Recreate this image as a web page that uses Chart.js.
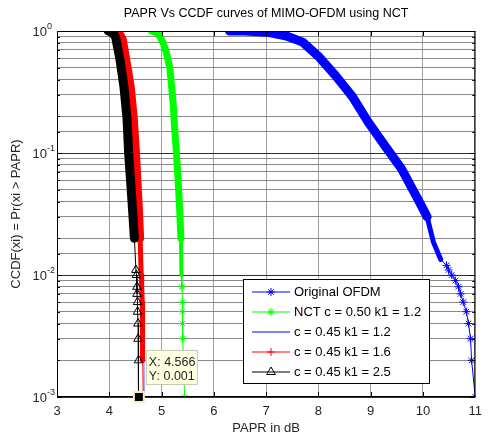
<!DOCTYPE html>
<html lang="en">
<head>
  <meta charset="UTF-8">
  <title>PAPR Vs CCDF curves of MIMO-OFDM using NCT</title>
  <script src="https://cdn.jsdelivr.net/npm/chart.js"></script>
  <style>
    body { margin: 0; padding: 0; background: #fff; }
    #wrap { width: 489px; height: 437px; position: relative; }
  </style>
</head>
<body>
  <div id="wrap"><canvas id="chart"></canvas></div>

  <script>
    // values (PAPR in dB, CCDF)
    const origX = [6.30, 6.60, 7.07, 7.39, 7.70, 8.00, 8.33, 8.65, 8.95, 9.27, 9.59, 9.90, 10.08, 10.20, 10.34, 10.45, 10.49, 10.55, 10.62, 10.68, 10.72, 10.77, 10.83, 10.87, 10.91, 10.93, 11.00];
    const origY = [1.0, 1.0, 0.97, 0.91, 0.81, 0.62, 0.43, 0.29, 0.18, 0.115, 0.074, 0.042, 0.030, 0.0186, 0.0134, 0.012, 0.011, 0.010, 0.009, 0.008, 0.007, 0.006, 0.005, 0.004, 0.003, 0.002, 0.001];

    const nct50X = [4.81, 4.90, 4.97, 5.03, 5.09, 5.16, 5.22, 5.25, 5.28, 5.32, 5.35, 5.37, 5.38, 5.39, 5.40, 5.40, 5.40, 5.41, 5.42, 5.44];
    const nct50Y = [1.0, 0.97, 0.9, 0.8, 0.67, 0.49, 0.26, 0.16, 0.107, 0.057, 0.032, 0.02, 0.01, 0.008, 0.006, 0.005, 0.004, 0.003, 0.002, 0.001];

    const k12X = [4.14, 4.22, 4.28, 4.34, 4.43, 4.49, 4.53, 4.56, 4.59, 4.61, 4.64, 4.65, 4.66, 4.67];
    const k12Y = [1.0, 0.95, 0.85, 0.6, 0.35, 0.19, 0.1, 0.057, 0.032, 0.02, 0.01, 0.006, 0.003, 0.001];

    const k16X = [4.12, 4.20, 4.26, 4.32, 4.41, 4.47, 4.51, 4.54, 4.57, 4.59, 4.61, 4.62, 4.63, 4.63, 4.64, 4.64, 4.65];
    const k16Y = [1.0, 0.95, 0.85, 0.6, 0.35, 0.19, 0.1, 0.057, 0.032, 0.02, 0.01, 0.008, 0.006, 0.004, 0.003, 0.002, 0.001];

    const k25X = [3.98, 4.05, 4.12, 4.20, 4.28, 4.34, 4.37, 4.41, 4.45, 4.48, 4.51, 4.52, 4.53, 4.53, 4.54, 4.54, 4.55, 4.55, 4.56, 4.566];
    const k25Y = [1.0, 0.98, 0.9, 0.6, 0.35, 0.19, 0.1, 0.057, 0.032, 0.02, 0.011, 0.01, 0.008, 0.007, 0.006, 0.005, 0.004, 0.003, 0.002, 0.001];

    const seriesNames = ["Original OFDM", "NCT c = 0.50 k1 = 1.2", "c = 0.45 k1 = 1.2", "c = 0.45 k1 = 1.6", "c = 0.45 k1 = 2.5"];
    const tipX = 4.566, tipY = 0.001;

    const pts = (xs, ys) => xs.map((x, i) => ({ x: x, y: ys[i] }));
    const FONT = "'Liberation Sans', Arial, sans-serif";

    // packed markers look like a thick band; thinner lower down, then a plain line
    function band(steps) {
      return ctx => {
        const lo = Math.min(ctx.p0.parsed.y, ctx.p1.parsed.y);
        for (const [thr, w] of steps) if (lo >= thr) return w;
        return 1;
      };
    }
    function sparse(r, thr) {
      return ctx => (ctx.raw && ctx.raw.y < thr) ? r : 0;
    }

    const styles = [
      { color: "#0000ff", marker: "star", r: 4, steps: [[0.03, 9], [0.013, 5]], order: 4 },
      { color: "#00ff00", marker: "star", r: 4, steps: [[0.015, 7], [0.009, 4]], order: 3 },
      { color: "#8080ff", marker: false, r: 0, steps: [], order: 2 },
      { color: "#ff0000", marker: "cross", r: 4, steps: [[0.02, 8], [0.002, 5]], order: 1 },
      { color: "#000000", marker: "triangle", r: 5, steps: [[0.015, 9]], order: 0 }
    ];
    const allData = [pts(origX, origY), pts(nct50X, nct50Y), pts(k12X, k12Y), pts(k16X, k16Y), pts(k25X, k25Y)];

    const datasets = allData.map((d, i) => {
      const s = styles[i];
      const lowest = s.steps.length ? s.steps[s.steps.length - 1][0] : 0;
      return {
        label: seriesNames[i],
        data: d,
        order: s.order,
        borderColor: s.color,
        backgroundColor: "rgba(0,0,0,0)",
        pointBorderColor: s.color,
        pointBackgroundColor: "rgba(0,0,0,0)",
        borderWidth: 1,
        borderJoinStyle: "round",
        borderCapStyle: "round",
        pointStyle: s.marker,
        pointRadius: s.marker ? sparse(s.r, lowest) : 0,
        pointBorderWidth: 1,
        segment: { borderWidth: band(s.steps) },
        tension: 0,
        showLine: true
      };
    });

    function drawSup(ctx, x, y, base, exp) {
      ctx.font = "13px " + FONT;
      ctx.textAlign = "right";
      ctx.textBaseline = "alphabetic";
      ctx.fillText(base, x, y + 5);
      ctx.font = "9px " + FONT;
      ctx.textAlign = "left";
      ctx.fillText(exp, x, y - 2);
    }

    const matlabLook = {
      id: "matlabLook",
      afterDraw(chart) {
        const c = chart.ctx, a = chart.chartArea;
        const xs = chart.scales.x, ys = chart.scales.y;
        c.save();

        // axes box + inward ticks
        c.strokeStyle = "#000";
        c.lineWidth = 1;
        c.strokeRect(a.left + 0.5, a.top + 0.5, a.right - a.left - 1, a.bottom - a.top - 1);
        c.beginPath();
        for (let v = 4; v <= 10; v++) {
          const px = Math.round(xs.getPixelForValue(v)) + 0.5;
          c.moveTo(px, a.bottom); c.lineTo(px, a.bottom - 5);
          c.moveTo(px, a.top); c.lineTo(px, a.top + 5);
        }
        ys.ticks.forEach(t => {
          const py = Math.round(ys.getPixelForValue(t.value)) + 0.5;
          const major = Math.abs(Math.log10(t.value) - Math.round(Math.log10(t.value))) < 1e-6;
          const len = major ? 5 : 3;
          c.moveTo(a.left, py); c.lineTo(a.left + len, py);
          c.moveTo(a.right, py); c.lineTo(a.right - len, py);
        });
        c.stroke();

        // y tick labels with superscript
        c.fillStyle = "#262626";
        [0, -1, -2, -3].forEach(e => {
          const py = ys.getPixelForValue(Math.pow(10, e));
          drawSup(c, 47, py, "10", String(e));
        });

        // title and axis labels
        c.fillStyle = "#000";
        c.font = "12.5px " + FONT;
        c.textAlign = "center";
        c.textBaseline = "middle";
        c.fillText("PAPR Vs CCDF curves of MIMO-OFDM using NCT", (a.left + a.right) / 2, 14);
        c.fillStyle = "#262626";
        c.font = "13px " + FONT;
        c.fillText("PAPR in dB", (a.left + a.right) / 2, 428);
        c.save();
        c.translate(16, (a.top + a.bottom) / 2);
        c.rotate(-Math.PI / 2);
        c.fillText("CCDF(xi) = Pr(xi > PAPR)", 0, 0);
        c.restore();

        // legend
        const lx = 243, ly = 279, lw = 186, lh = 104;
        c.fillStyle = "#fff";
        c.fillRect(lx, ly, lw, lh);
        c.strokeStyle = "#000";
        c.lineWidth = 1;
        c.strokeRect(lx + 0.5, ly + 0.5, lw, lh);
        seriesNames.forEach((name, i) => {
          const s = styles[i];
          const yy = 292 + i * 20;
          c.strokeStyle = s.color;
          c.lineWidth = i === 2 ? 2 : 1;
          c.beginPath();
          c.moveTo(252, yy); c.lineTo(290, yy);
          c.stroke();
          if (s.marker) {
            c.lineWidth = 1;
            c.fillStyle = "rgba(0,0,0,0)";
            Chart.helpers.drawPoint(c, { pointStyle: s.marker, radius: s.r, borderWidth: 1, rotation: 0 }, 271, yy);
          }
          c.fillStyle = "#000";
          c.font = "13px " + FONT;
          c.textAlign = "left";
          c.textBaseline = "middle";
          c.fillText(name, 294, yy);
        });

        // data tip
        const tx = xs.getPixelForValue(tipX), ty = ys.getPixelForValue(tipY);
        c.fillStyle = "#ffffe1";
        c.fillRect(tx + 7, ty - 47, 51, 34);
        c.strokeStyle = "#c8c8b4";
        c.strokeRect(tx + 7.5, ty - 46.5, 51, 34);
        c.fillStyle = "#262626";
        c.font = "12.5px " + FONT;
        c.textAlign = "left";
        c.fillText("X: " + tipX, tx + 10, ty - 34);
        c.fillText("Y: " + tipY.toFixed(3), tx + 10, ty - 20);
        c.fillStyle = "#f5f0c8";
        c.fillRect(tx - 6, ty - 6, 12, 12);
        c.fillStyle = "#000";
        c.fillRect(tx - 4, ty - 4, 8, 8);

        c.restore();
      }
    };

    new Chart(document.getElementById("chart"), {
      type: "scatter",
      data: { datasets: datasets },
      options: {
        responsive: true,
        maintainAspectRatio: false,
        animation: false,
        layout: { padding: { top: 31, right: 7, left: 0, bottom: 0 } },
        plugins: { legend: { display: false }, tooltip: { enabled: false }, title: { display: false } },
        scales: {
          x: {
            type: "linear", min: 3, max: 11,
            ticks: { stepSize: 1, color: "#262626", font: { size: 13, family: FONT }, padding: 7 },
            grid: { color: "#a0a0a0", drawTicks: false },
            border: { display: false },
            afterFit: s => { s.height = 40; }
          },
          y: {
            type: "logarithmic", min: 0.001, max: 1,
            ticks: { display: false, autoSkip: false },
            grid: {
              drawTicks: false,
              color: ctx => {
                const v = ctx.tick ? ctx.tick.value : 1;
                const l = Math.log10(v);
                return Math.abs(l - Math.round(l)) < 1e-6 ? "#303030" : "#8a8a8a";
              }
            },
            border: { display: false },
            afterFit: s => { s.width = 57; }
          }
        }
      },
      plugins: [matlabLook]
    });
  </script>
</body>
</html>
